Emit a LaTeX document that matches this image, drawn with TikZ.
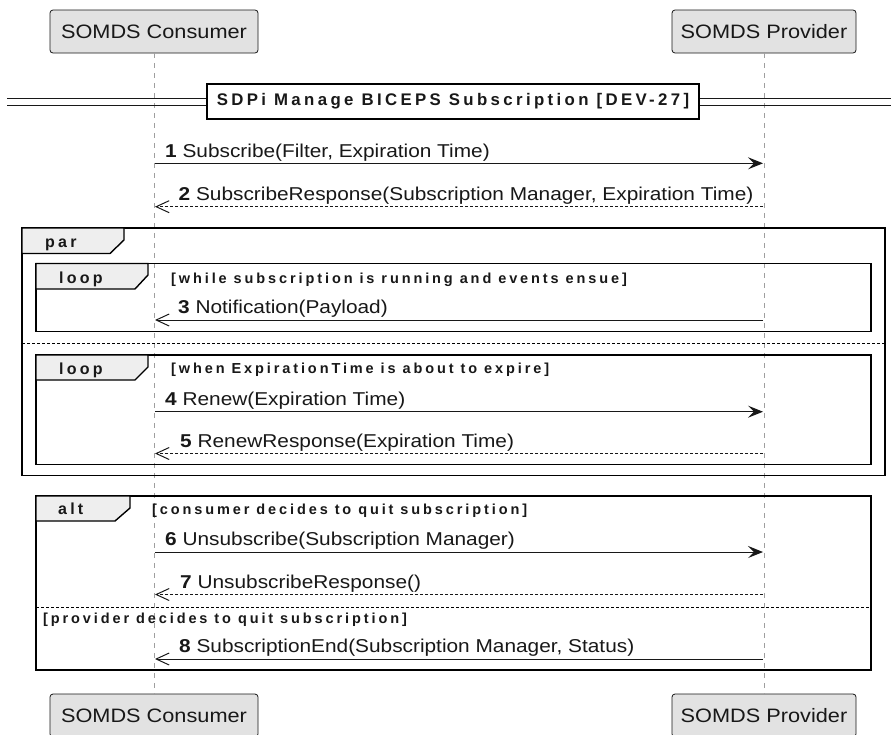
\documentclass[tikz,border=0pt]{standalone}
\usepackage{fontspec}
\setmainfont[FakeStretch=1.12]{Liberation Sans}
\newfontfamily\grpfont[LetterSpace=20]{Liberation Sans}
\usetikzlibrary{arrows.meta}
\definecolor{ink}{HTML}{181818}
\definecolor{partfill}{HTML}{E2E2E2}
\definecolor{tabfill}{HTML}{EEEEEE}
\begin{document}
\begin{tikzpicture}[x=1pt,y=-1pt,
  part/.style={draw=ink, fill=partfill, rounded corners=3pt, line width=0.8pt,
    font=\fontsize{19.4}{23}\selectfont, text=ink, minimum height=43pt, inner sep=0pt},
  life/.style={draw=gray!75, dash pattern=on 5pt off 5pt, line width=0.8pt},
  frm/.style={draw=black, line width=1.8pt},
  tabshape/.style={draw=black, fill=tabfill, line width=1.4pt},
  sepline/.style={draw=black, line width=1pt, dash pattern=on 3pt off 2pt},
  msg/.style={anchor=base west, font=\fontsize{18.6}{22}\selectfont, text=ink, inner sep=0pt},
  grd/.style={anchor=base west, font=\grpfont\bfseries\fontsize{14.5}{17}\selectfont, text=ink, inner sep=0pt},
  tablbl/.style={anchor=base west, font=\grpfont\bfseries\fontsize{16}{19}\selectfont, text=ink, inner sep=0pt},
  sync/.style={draw=ink, line width=1pt, -{Stealth[length=15pt,width=12pt,inset=6pt]}},
  syncback/.style={draw=ink, line width=1pt, -{Straight Barb[length=13pt,width=12pt]}},
  reply/.style={draw=ink, line width=1pt, dash pattern=on 3pt off 2pt, -{Straight Barb[length=13pt,width=12pt]}},
]
\useasboundingbox (0,0) rectangle (891,734);
\fill[white] (0,0) rectangle (891,734);

% participants
\node[part, minimum width=208pt] (ctop) at (154,31.5) {SOMDS Consumer};
\node[part, minimum width=184pt] (ptop) at (764,31.5) {SOMDS Provider};
\node[part, minimum width=208pt] (cbot) at (154,715.5) {SOMDS Consumer};
\node[part, minimum width=184pt] (pbot) at (764,715.5) {SOMDS Provider};

% lifelines
\draw[life] (ctop.south) -- (cbot.north);
\draw[life] (ptop.south) -- (pbot.north);

% title divider
\coordinate (dl1) at (7,98.5);  \coordinate (dr1) at (891,98.5);
\coordinate (dl2) at (7,105.5); \coordinate (dr2) at (891,105.5);
\draw[ink, line width=1.4pt] (dl1) -- (dr1);
\draw[ink, line width=1.4pt] (dl2) -- (dr2);
\node[draw=black, line width=2pt, fill=white, minimum width=492pt, minimum height=35pt,
  font=\grpfont\bfseries\fontsize{16.8}{19}\selectfont, text=ink, inner sep=0pt]
  (title) at (453,101.5) {SDPi Manage BICEPS Subscription [DEV-27]};

% message coordinates
\foreach \n/\y in {1/163.3,2/206.7,3/320,4/411.7,5/453.5,6/552,7/594.5,8/659}{
  \coordinate (c\n) at (155,\y);
  \coordinate (p\n) at (763,\y);
}

% message 1, 2
\draw[sync] (c1) -- (p1);
\node[msg] (m1) at (165,157) {\textbf{1} Subscribe(Filter, Expiration Time)};
\draw[reply] (p2) -- (c2);
\node[msg] (m2) at (178.5,200) {\textbf{2} SubscribeResponse(Subscription Manager, Expiration Time)};

% par frame
\draw[frm] (22,228) rectangle (885,475.5);
\draw[tabshape] (22,228) -- (124,228) -- (124,240) -- (110,253.5) -- (22,253.5) -- cycle;
\node[tablbl] (parl) at (45,247) {par};
\draw[sepline] (22,343) -- (885,343);

% loop 1
\draw[frm] (36,263.5) rectangle (871,331.5);
\draw[tabshape] (36,263.5) -- (148,263.5) -- (148,275) -- (135,289) -- (36,289) -- cycle;
\node[tablbl] (loop1l) at (59,283) {loop};
\node[grd] (g1) at (171,283) {[while subscription is running and events ensue]};
\draw[syncback] (p3) -- (c3);
\node[msg] (m3) at (178,313.5) {\textbf{3} Notification(Payload)};

% loop 2
\draw[frm] (36,355) rectangle (871,464.5);
\draw[tabshape] (36,355) -- (148,355) -- (148,367) -- (135,380) -- (36,380) -- cycle;
\node[tablbl] (loop2l) at (59,374) {loop};
\node[grd] (g2) at (171,373) {[when ExpirationTime is about to expire]};
\draw[sync] (c4) -- (p4);
\node[msg] (m4) at (165,405) {\textbf{4} Renew(Expiration Time)};
\draw[reply] (p5) -- (c5);
\node[msg] (m5) at (180,447) {\textbf{5} RenewResponse(Expiration Time)};

% alt
\draw[frm] (36,496) rectangle (871,670);
\draw[tabshape] (36,496) -- (130,496) -- (130,508) -- (115,521) -- (36,521) -- cycle;
\node[tablbl] (altl) at (58,514.5) {alt};
\node[grd] (g3) at (152,514) {[consumer decides to quit subscription]};
\draw[sync] (c6) -- (p6);
\node[msg] (m6) at (165,545.5) {\textbf{6} Unsubscribe(Subscription Manager)};
\draw[reply] (p7) -- (c7);
\node[msg] (m7) at (180,588) {\textbf{7} UnsubscribeResponse()};
\draw[sepline] (36,607) -- (871,607);
\node[grd] (g4) at (43,623) {[provider decides to quit subscription]};
\draw[syncback] (p8) -- (c8);
\node[msg] (m8) at (179,652.5) {\textbf{8} SubscriptionEnd(Subscription Manager, Status)};
\end{tikzpicture}
\end{document}
